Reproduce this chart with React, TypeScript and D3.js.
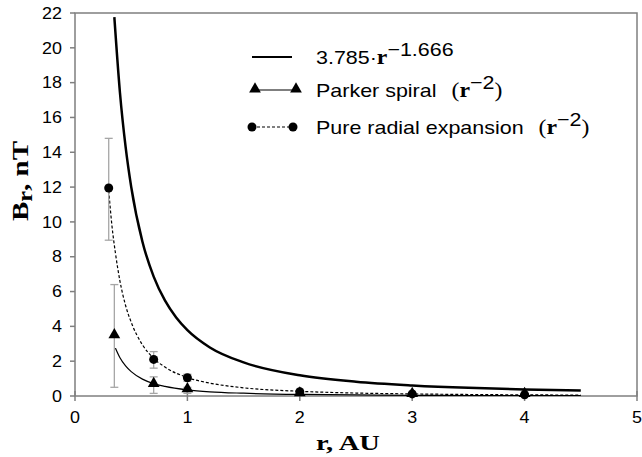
import { useEffect, useRef } from 'react';
import * as d3 from 'd3';

const W = 642
const H = 457
const margin = { top: 13, right: 5, bottom: 61, left: 75 }
const width = W - margin.left - margin.right
const height = H - margin.top - margin.bottom

const xTicks = [0, 1, 2, 3, 4, 5]
const yTicks = [0, 2, 4, 6, 8, 10, 12, 14, 16, 18, 20, 22]

// fitted curve 3.785 r^-1.666
const fitR = [0.35, 0.4, 0.45, 0.5, 0.6, 0.7, 0.8, 0.9, 1.0, 1.2, 1.5, 2, 2.5, 3, 3.5, 4, 4.5]
const fitB = [21.76, 17.42, 14.32, 12.01, 8.86, 6.86, 5.49, 4.51, 3.785, 2.79, 1.93, 1.19, 0.82, 0.61, 0.47, 0.38, 0.31]

// Parker spiral r^-2 curve
const parkerCurveR = [0.36, 0.4, 0.45, 0.5, 0.6, 0.7, 0.8, 1, 1.2, 1.5, 2, 2.5, 3, 3.5, 4, 4.5]
const parkerCurveB = [2.75, 2.2, 1.73, 1.4, 0.97, 0.71, 0.55, 0.35, 0.24, 0.16, 0.09, 0.06, 0.04, 0.03, 0.022, 0.017]

// pure radial expansion r^-2 curve
const radialCurveR = [0.3, 0.33, 0.36, 0.4, 0.45, 0.5, 0.6, 0.7, 0.8, 1, 1.2, 1.5, 2, 2.5, 3, 3.5, 4, 4.5]
const radialCurveB = [11.8, 9.7, 8.2, 6.6, 5.2, 4.24, 2.94, 2.16, 1.66, 1.06, 0.74, 0.47, 0.27, 0.17, 0.12, 0.087, 0.066, 0.052]

// measured points
const parkerR = [0.35, 0.7, 1, 2, 3, 4]
const parkerB = [3.4, 0.6, 0.3, 0.06, 0.03, 0.02]
const parkerLo = [0.5, 0.15, 0.15, null, null, null]
const parkerHi = [6.4, 1.1, 0.5, null, null, null]

const radialR = [0.3, 0.7, 1, 2, 3, 4]
const radialB = [11.95, 2.1, 1.05, 0.25, 0.12, 0.07]
const radialLo = [8.95, 1.6, 0.85, null, null, null]
const radialHi = [14.8, 2.55, 1.25, null, null, null]

const sans = 'Liberation Sans, Arial, sans-serif'
const serif = 'Liberation Serif, Times New Roman, serif'

const App = () => {
  const ref = useRef(null)

  useEffect(() => {
    if (!ref.current) return
    const root = d3.select(ref.current)
    root.selectAll('*').remove()

    const x = d3.scaleLinear().domain([0, 5]).range([0, width])
    const y = d3.scaleLinear().domain([0, 22]).range([height, 0])

    const svg = root.append('g').attr('transform', `translate(${margin.left},${margin.top})`)
    const frame = '#7f7f7f'
    const errColor = '#a6a6a6'

    svg.append('defs').append('clipPath').attr('id', 'clip')
      .append('rect').attr('x', 0).attr('y', 0).attr('width', width).attr('height', height)

    // frame
    svg.append('rect')
      .attr('x', 0).attr('y', 0).attr('width', width).attr('height', height)
      .attr('fill', 'none').attr('stroke', frame).attr('stroke-width', 1.5)

    // y ticks
    yTicks.forEach(t => {
      svg.append('line').attr('x1', -5).attr('x2', 0).attr('y1', y(t)).attr('y2', y(t))
        .attr('stroke', frame).attr('stroke-width', 1.5)
      svg.append('text').attr('transform', `translate(-13,${y(t)}) scale(1.12,1)`).attr('dy', '0.36em')
        .attr('text-anchor', 'end').attr('font-family', sans)
        .attr('font-size', 16).attr('fill', '#000').text(t)
    })

    // x ticks
    xTicks.forEach(t => {
      svg.append('line').attr('x1', x(t)).attr('x2', x(t)).attr('y1', height - 5).attr('y2', height + 5)
        .attr('stroke', frame).attr('stroke-width', 1.5)
      svg.append('text').attr('transform', `translate(${x(t)},${height + 21}) scale(1.12,1)`).attr('dy', '0.36em')
        .attr('text-anchor', 'middle').attr('font-family', sans)
        .attr('font-size', 16).attr('fill', '#000').text(t)
    })

    // axis titles
    svg.append('text').attr('x', x(2.5) - 8).attr('y', height + 54)
      .attr('text-anchor', 'middle').attr('font-family', serif)
      .attr('font-size', 21).attr('font-weight', 'bold')
      .attr('textLength', 64).attr('lengthAdjust', 'spacingAndGlyphs').text('r, AU')

    const yt = svg.append('text').attr('transform', `translate(${-47},${181 - margin.top}) rotate(-90)`)
      .attr('text-anchor', 'middle').attr('font-family', serif)
      .attr('font-size', 24).attr('font-weight', 'bold')
      .attr('textLength', 80).attr('lengthAdjust', 'spacingAndGlyphs')
    yt.append('tspan').text('B')
    yt.append('tspan').attr('font-size', 20).attr('dy', 4).text('r')
    yt.append('tspan').attr('dy', -4).text(', nT')

    const plot = svg.append('g').attr('clip-path', 'url(#clip)')
    const line = d3.line<[number, number]>().x(d => x(d[0])).y(d => y(d[1])).curve(d3.curveMonotoneX)

    plot.append('path').datum(fitR.map((r, i) => [r, fitB[i]] as [number, number]))
      .attr('d', line).attr('fill', 'none').attr('stroke', '#000').attr('stroke-width', 2.5)

    plot.append('path').datum(parkerCurveR.map((r, i) => [r, parkerCurveB[i]] as [number, number]))
      .attr('d', line).attr('fill', 'none').attr('stroke', '#000').attr('stroke-width', 1.2)

    plot.append('path').datum(radialCurveR.map((r, i) => [r, radialCurveB[i]] as [number, number]))
      .attr('d', line).attr('fill', 'none').attr('stroke', '#000').attr('stroke-width', 1.2)
      .attr('stroke-dasharray', '3,2')

    // error bars
    const errBar = (rs: number[], lo: (number | null)[], hi: (number | null)[]) => {
      rs.forEach((r, i) => {
        const l = lo[i], h = hi[i]
        if (l == null || h == null) return
        const cx = x(r)
        svg.append('line').attr('x1', cx).attr('x2', cx).attr('y1', y(l)).attr('y2', y(h))
          .attr('stroke', errColor).attr('stroke-width', 1.3)
        ;[l, h].forEach(v => {
          svg.append('line').attr('x1', cx - 4).attr('x2', cx + 4).attr('y1', y(v)).attr('y2', y(v))
            .attr('stroke', errColor).attr('stroke-width', 1.3)
        })
      })
    }
    errBar(parkerR, parkerLo, parkerHi)
    errBar(radialR, radialLo, radialHi)

    const tri = d3.symbol().type(d3.symbolTriangle).size(60)
    parkerR.forEach((r, i) => {
      svg.append('path').attr('d', tri()).attr('transform', `translate(${x(r)},${y(parkerB[i]) - 2})`)
        .attr('fill', '#000')
    })
    radialR.forEach((r, i) => {
      svg.append('circle').attr('cx', x(r)).attr('cy', y(radialB[i])).attr('r', 4.5).attr('fill', '#000')
    })

    // legend
    const lg = svg.append('g').attr('transform', `translate(${252 - margin.left},0)`)
    const rows = [44, 77, 114]
    const legText = (row: number) => lg.append('text')
      .attr('transform', `translate(64,${row}) scale(1.13,1)`).attr('dy', '0.36em')
      .attr('font-family', sans).attr('font-size', 19)
    const powerTail = (t: any, label: string) => {
      t.append('tspan').attr('dx', 8).attr('font-family', serif).attr('font-size', 21).text('(')
      t.append('tspan').attr('font-family', serif).attr('font-weight', 'bold').attr('font-size', 21).text('r')
      t.append('tspan').attr('dy', -8).text(label)
      t.append('tspan').attr('dy', 8).attr('font-family', serif).attr('font-size', 21).text(')')
    }

    lg.append('line').attr('x1', 0).attr('x2', 40).attr('y1', rows[0]).attr('y2', rows[0])
      .attr('stroke', '#000').attr('stroke-width', 2)
    const t1 = legText(rows[0])
    t1.append('tspan').text('3.785·')
    t1.append('tspan').attr('font-family', serif).attr('font-weight', 'bold').attr('font-size', 21).text('r')
    t1.append('tspan').attr('dy', -8).text('−1.666')

    lg.append('line').attr('x1', 3).attr('x2', 44).attr('y1', rows[1]).attr('y2', rows[1])
      .attr('stroke', '#000').attr('stroke-width', 1.2)
    ;[3, 44].forEach(px => {
      lg.append('path').attr('d', tri()).attr('transform', `translate(${px},${rows[1] - 1})`).attr('fill', '#000')
    })
    const t2 = legText(rows[1])
    t2.append('tspan').text('Parker spiral ')
    powerTail(t2, '−2')

    lg.append('line').attr('x1', 0).attr('x2', 41).attr('y1', rows[2]).attr('y2', rows[2])
      .attr('stroke', '#000').attr('stroke-width', 1.2).attr('stroke-dasharray', '3,2')
    ;[0, 41].forEach(px => {
      lg.append('circle').attr('cx', px).attr('cy', rows[2]).attr('r', 4.5).attr('fill', '#000')
    })
    const t3 = legText(rows[2])
    t3.append('tspan').text('Pure radial expansion ')
    powerTail(t3, '−2')
  }, [])

  return (
    <svg ref={ref} width={W} height={H} style={{ position: 'absolute', left: 0, top: 0, background: '#fff' }} />
  )
}

export default App
